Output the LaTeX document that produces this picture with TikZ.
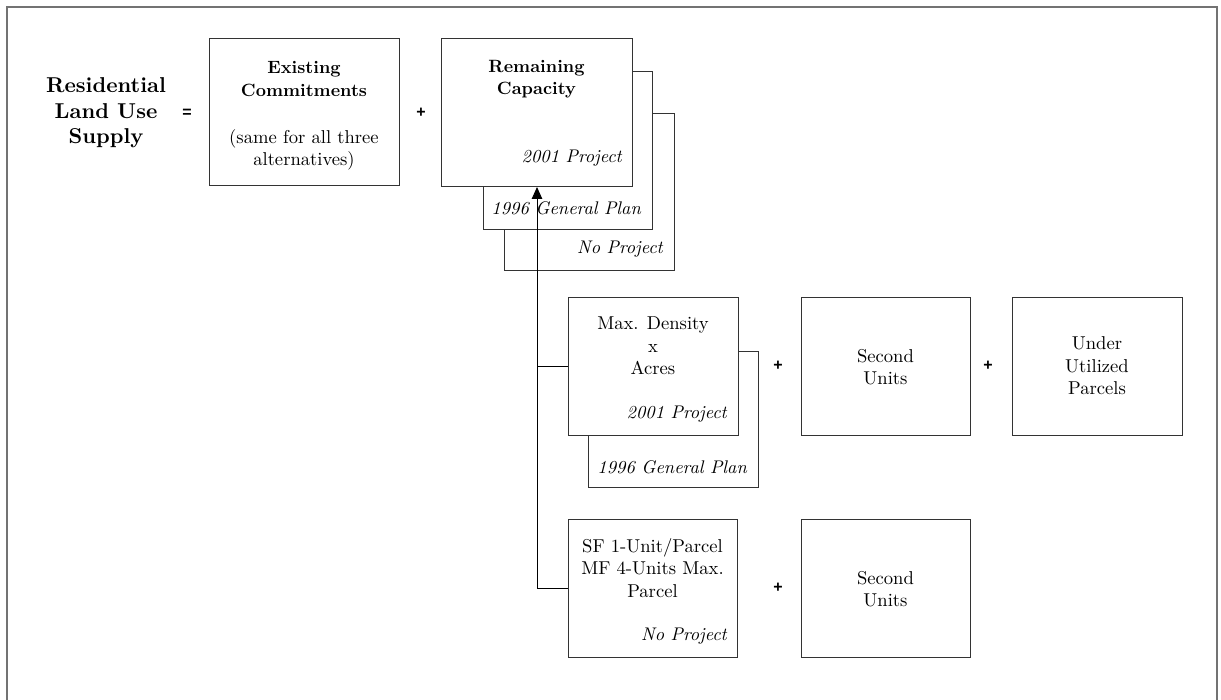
\documentclass[tikz,border=0pt]{standalone}
\usepackage{fontspec}
\setmainfont{lmroman10-regular.otf}[BoldFont=lmroman10-bold.otf, ItalicFont=lmroman10-italic.otf, BoldItalicFont=lmroman10-bolditalic.otf]
\newfontfamily\opfont{Liberation Sans}
\usetikzlibrary{arrows.meta}
\begin{document}
\begin{tikzpicture}[x=1pt,y=-1pt,
  box/.style={draw=black!80, line width=1pt, fill=white, anchor=north west, inner sep=0pt},
  txt/.style={font=\fontsize{18.6}{22.5}\selectfont, align=center, inner sep=0pt},
  btxt/.style={font=\fontsize{17.8}{22.5}\selectfont\bfseries, align=center, inner sep=0pt},
  itxt/.style={font=\fontsize{18.3}{22.5}\selectfont\itshape, anchor=east, inner sep=0pt},
  optxt/.style={font=\opfont\fontsize{16}{16}\selectfont\bfseries, inner sep=0pt},
  link/.style={draw=black, line width=1pt}]
\useasboundingbox (0,0) rectangle (1221,700);
% outer frame
\draw[black!55, line width=2pt] (7,705) -- (7,7) -- (1217,7) -- (1217,705);

% left label
\node[font=\fontsize{21.5}{25.5}\selectfont\bfseries, align=center, inner sep=0pt] (rlus) at (106,113) {Residential\\Land Use\\Supply};
\node[optxt] (eq) at (187,113) {=};

% existing commitments
\node[box, minimum width=190pt, minimum height=147pt] (ec) at (209,38) {};
\node[btxt] (ect) at (304,79) {Existing\\Commitments};
\node[txt] (ecs) at (304,150) {(same for all three\\alternatives)};
\node[optxt] (p1) at (421,113) {+};

% remaining capacity stack
\node[box, minimum width=170pt, minimum height=157pt] (rcn) at (504,113) {};
\node[box, minimum width=169pt, minimum height=158pt] (rcg) at (483,71) {};
\node[box, minimum width=191pt, minimum height=148pt] (rc) at (441,38) {};
\node[btxt] (rct) at (536.5,79) {Remaining\\Capacity};
\node[itxt] (rcl1) at (622,158) {2001 Project};
\node[itxt] (rcl2) at (641,208) {1996 General Plan};
\node[itxt] (rcl3) at (663,249) {No Project};

% max density stack
\node[box, minimum width=170pt, minimum height=136pt] (mdg) at (588,351) {};
\node[box, minimum width=170pt, minimum height=138pt] (md) at (568,297) {};
\node[txt] (mdt) at (653,346) {Max. Density\\x\\Acres};
\node[itxt] (mdl1) at (727,414) {2001 Project};
\node[itxt] (mdl2) at (747,467) {1996 General Plan};
\node[optxt] (p2) at (778,366) {+};
\node[box, minimum width=169pt, minimum height=138pt] (su1) at (801,297) {};
\node[txt] (su1t) at (885.5,367) {Second\\Units};
\node[optxt] (p3) at (988,366) {+};
\node[box, minimum width=170pt, minimum height=138pt] (uu) at (1012,297) {};
\node[txt] (uut) at (1097,366) {Under\\Utilized\\Parcels};

% no project row
\node[box, minimum width=169pt, minimum height=138pt] (sf) at (568,519) {};
\node[txt] (sft) at (652.5,568) {SF 1-Unit/Parcel\\MF 4-Units Max.\\Parcel};
\node[itxt] (sfl) at (727,636) {No Project};
\node[optxt] (p4) at (778,588) {+};
\node[box, minimum width=169pt, minimum height=138pt] (su2) at (801,519) {};
\node[txt] (su2t) at (885.5,589) {Second\\Units};

% connectors
\draw[link, -{Triangle[length=12pt,width=10.5pt]}] (sf.west) -| (rc.south);
\draw[link] (md.west) -- (md.west -| rc.south);
\end{tikzpicture}
\end{document}
